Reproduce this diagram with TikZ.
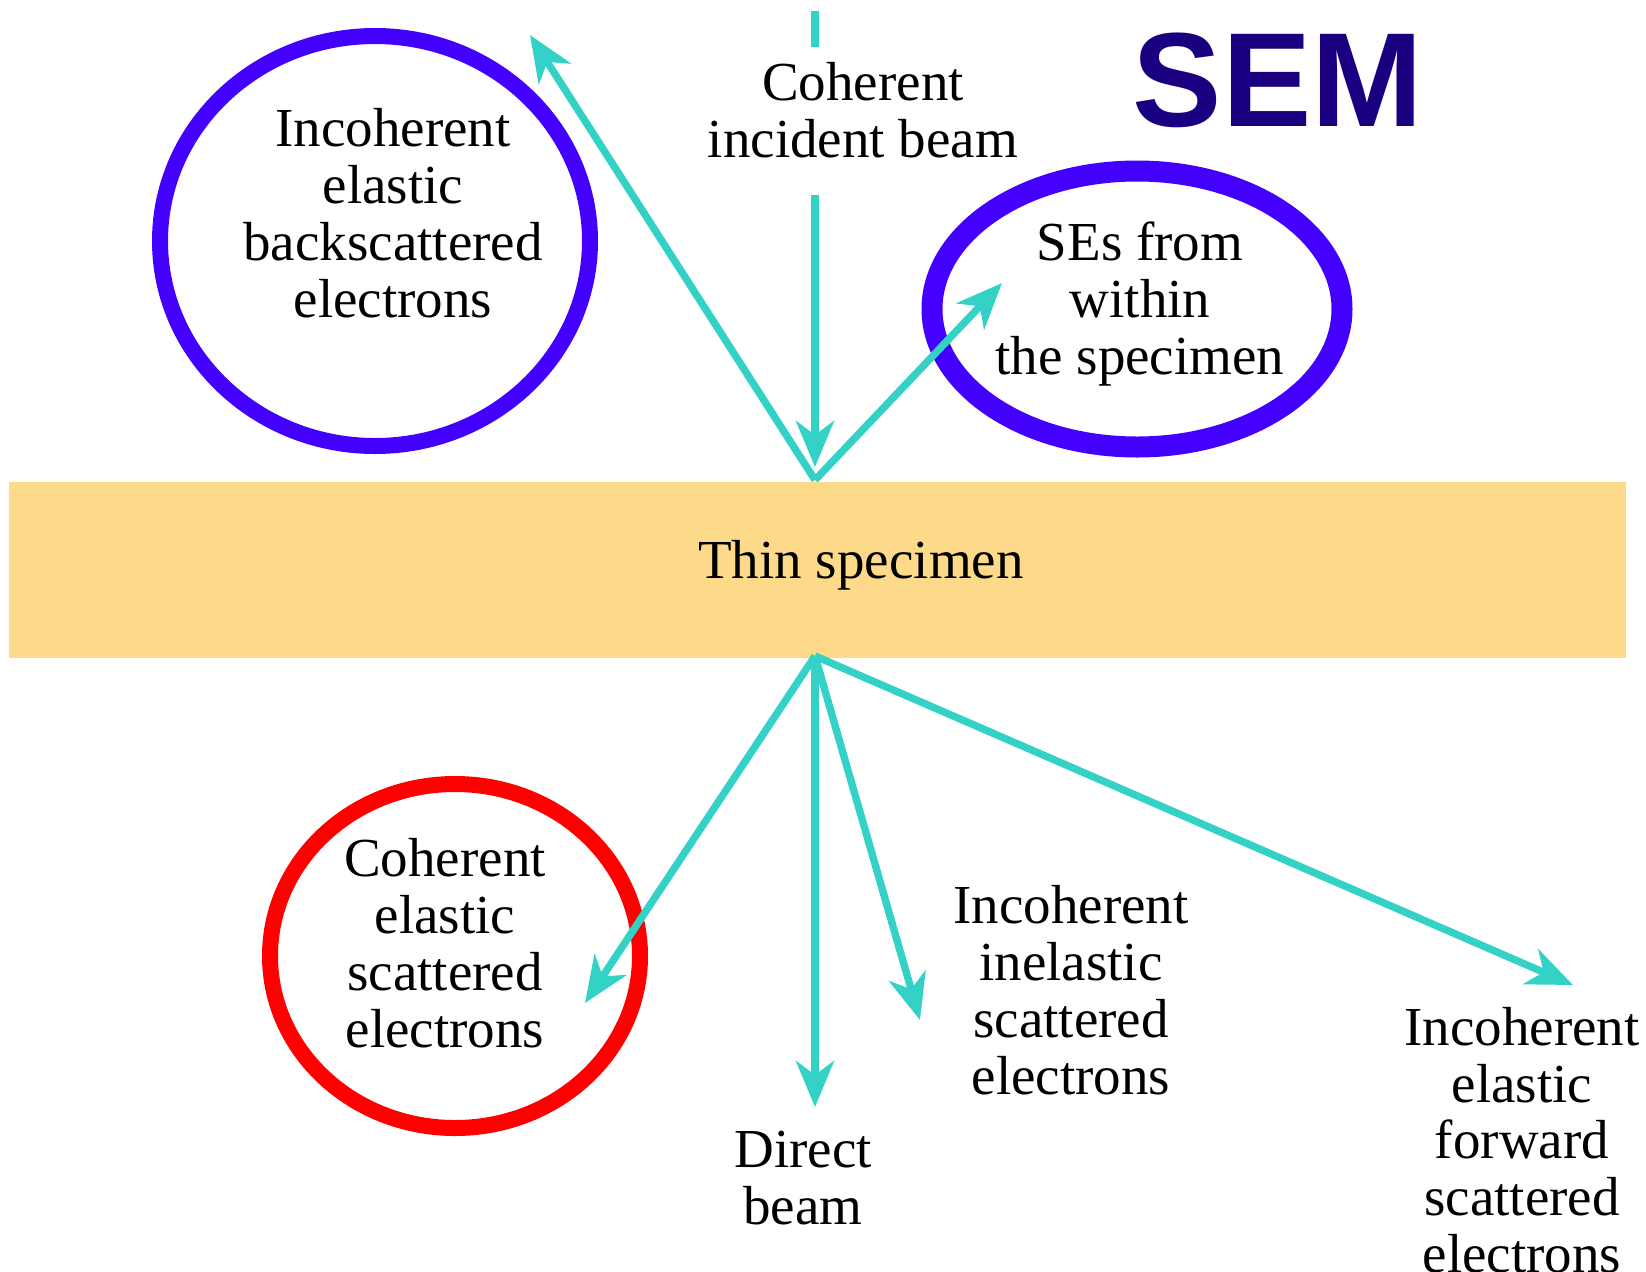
\documentclass[tikz,border=0pt]{standalone}
\usepackage{fontspec}
\setmainfont{Liberation Serif}
\newfontfamily\semfont{Liberation Sans}
\usetikzlibrary{arrows.meta,shapes.geometric}
\definecolor{beam}{RGB}{51,209,198}
\definecolor{ringblue}{RGB}{68,0,255}
\definecolor{ringred}{RGB}{255,0,0}
\definecolor{spec}{RGB}{253,217,138}
\definecolor{semcol}{RGB}{26,0,128}
\tikzset{
  ray/.style={draw=beam, line width=3.7pt, -{Stealth[length=23pt,width=19pt,inset=7pt]}},
  lbl/.style={align=center, inner sep=0pt, font=\fontsize{27.5}{28.4}\selectfont},
  ring/.style={draw, ellipse, inner sep=0pt},
}
\begin{document}
\begin{tikzpicture}[x=0.5pt,y=-0.5pt]
\useasboundingbox (0,0) rectangle (1646,1271);
% specimen
\node[fill=spec, minimum width=808.5pt, minimum height=88pt, inner sep=0pt, anchor=north west] (spec) at (8.5,482) {};
\node[lbl] (thin) at (861,565) {Thin specimen};
% rings
\node[ring, draw=ringblue, line width=8pt, minimum width=215pt, minimum height=205pt] (bse) at (375,241) {};
\node[ring, draw=ringblue, line width=10.5pt, minimum width=205pt, minimum height=138pt] (se) at (1137,309) {};
\node[ring, draw=ringred, line width=8pt, minimum width=185pt, minimum height=172pt] (coh) at (455,956) {};
% labels
\node[lbl] (tbse) at (393,213) {Incoherent\\elastic\\backscattered\\electrons};
\node[lbl] (tinc) at (863,110) {Coherent\\incident beam};
\node[lbl] (tse) at (1140,304) {SEs from\\within\\the specimen};
\node[lbl] (tcoh) at (445,943) {Coherent\\elastic\\scattered\\electrons};
\node[lbl] (tdir) at (803,1178) {Direct\\beam};
\node[lbl] (tinel) at (1071,990) {Incoherent\\inelastic\\scattered\\electrons};
\node[lbl] (tfwd) at (1522,1140) {Incoherent\\elastic\\forward\\scattered\\electrons};
\node[inner sep=0pt, text=semcol, font=\semfont\bfseries\fontsize{67}{67}\selectfont] (sem) at (1278,80) {SEM};
% coordinates
\coordinate (dashtop) at (815,11);
\coordinate (dashbot) at (815,47);
\coordinate (incstart) at (815,195);
\coordinate (inctip) at (815,467);
\coordinate (top) at (815,480);
\coordinate (bot) at (815,656);
\coordinate (bsetip) at (530,35);
\coordinate (setip) at (1002,283);
\coordinate (cohtip) at (585,1003);
\coordinate (dirtip) at (815,1107);
\coordinate (ineltip) at (920,1020);
\coordinate (fwdtip) at (1573,985);
% rays
\draw[draw=beam, line width=3.7pt] (dashtop) -- (dashbot);
\draw[ray] (incstart) -- (inctip);
\draw[ray] (top) -- (bsetip);
\draw[ray] (top) -- (setip);
\draw[ray] (bot) -- (cohtip);
\draw[ray] (bot) -- (dirtip);
\draw[ray] (bot) -- (ineltip);
\draw[ray] (bot) -- (fwdtip);
\end{tikzpicture}
\end{document}
